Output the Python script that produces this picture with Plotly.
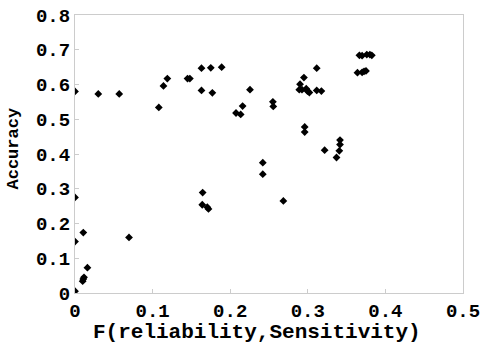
import plotly.graph_objects as go

x_vals = [0.0, 0.030, 0.057, 0.108, 0.114, 0.119, 0.145, 0.148, 0.163, 0.175,
          0.163, 0.177, 0.189, 0.2255, 0.2075, 0.2135, 0.216, 0.255, 0.2555,
          0.290, 0.295, 0.289, 0.2925, 0.298, 0.2995, 0.302, 0.3115, 0.3115, 0.3175,
          0.364, 0.370, 0.3725, 0.375, 0.3665, 0.370, 0.376, 0.380, 0.3825,
          0.242, 0.242, 0.296, 0.296, 0.3217, 0.3415, 0.3415, 0.3406, 0.337,
          0.2685, 0.1645, 0.164, 0.1705, 0.172,
          0.0, 0.0, 0.0107, 0.016, 0.0107, 0.0116, 0.0099, 0.0, 0.0696]
y_vals = [0.580, 0.573, 0.573, 0.534, 0.596, 0.617, 0.617, 0.617, 0.647, 0.648,
          0.583, 0.576, 0.650, 0.585, 0.518, 0.514, 0.538, 0.550, 0.537,
          0.601, 0.620, 0.585, 0.585, 0.588, 0.581, 0.577, 0.647, 0.583, 0.581,
          0.634, 0.635, 0.638, 0.639, 0.684, 0.683, 0.686, 0.686, 0.684,
          0.375, 0.342, 0.478, 0.463, 0.411, 0.440, 0.427, 0.409, 0.390,
          0.265, 0.289, 0.254, 0.247, 0.242,
          0.275, 0.148, 0.174, 0.073, 0.040, 0.045, 0.034, 0.005, 0.160]

x_ticks = [0, 0.1, 0.2, 0.3, 0.4, 0.5]
x_tick_labels = ["0", "0.1", "0.2", "0.3", "0.4", "0.5"]
y_ticks = [0, 0.1, 0.2, 0.3, 0.4, 0.5, 0.6, 0.7, 0.8]
y_tick_labels = ["0", "0.1", "0.2", "0.3", "0.4", "0.5", "0.6", "0.7", "0.8"]
x_title = "F(reliability,Sensitivity)"
y_title = "Accuracy"

font_fam = "Liberation Mono"
W, H = 480, 348
L, R, T, B = 75, 17, 15, 55

fig = go.Figure(go.Scatter(
    x=x_vals, y=y_vals, mode="markers",
    marker=dict(symbol="diamond", size=6, color="black"),
))

axis_common = dict(
    showgrid=False, zeroline=False, showline=True, mirror=True,
    linecolor="#cccccc", linewidth=1, automargin=False,
    ticks="inside", ticklen=4, tickcolor="#cccccc",
    ticklabeloverflow="allow",
    tickfont=dict(family=font_fam, size=19, color="black", weight="bold"),
)

fig.update_layout(
    width=W, height=H,
    margin=dict(l=L, r=R, t=T, b=B),
    plot_bgcolor="white", paper_bgcolor="white",
    showlegend=False,
    xaxis=dict(range=[0, 0.5], tickvals=x_ticks, ticktext=x_tick_labels,
               ticklabelstandoff=0, **axis_common),
    yaxis=dict(range=[0, 0.8], tickvals=y_ticks, ticktext=y_tick_labels,
               ticklabelstandoff=0, **axis_common),
    annotations=[
        dict(text=x_title, xref="paper", yref="paper",
             x=(256.5 - L) / (W - L - R), y=-(332 - (H - B)) / (H - T - B),
             xanchor="center", yanchor="middle", showarrow=False,
             font=dict(family=font_fam, size=21, color="black", weight="bold")),
        dict(text=y_title, xref="paper", yref="paper", textangle=-90,
             x=-(L - 12.5) / (W - L - R), y=((H - B) - 148) / (H - T - B),
             xanchor="center", yanchor="middle", showarrow=False,
             font=dict(family=font_fam, size=17, color="black", weight="bold")),
    ],
)

fig.write_html("out.html", config={"displayModeBar": False},
               post_script="document.body.style.margin='0';document.body.style.overflow='hidden';")
